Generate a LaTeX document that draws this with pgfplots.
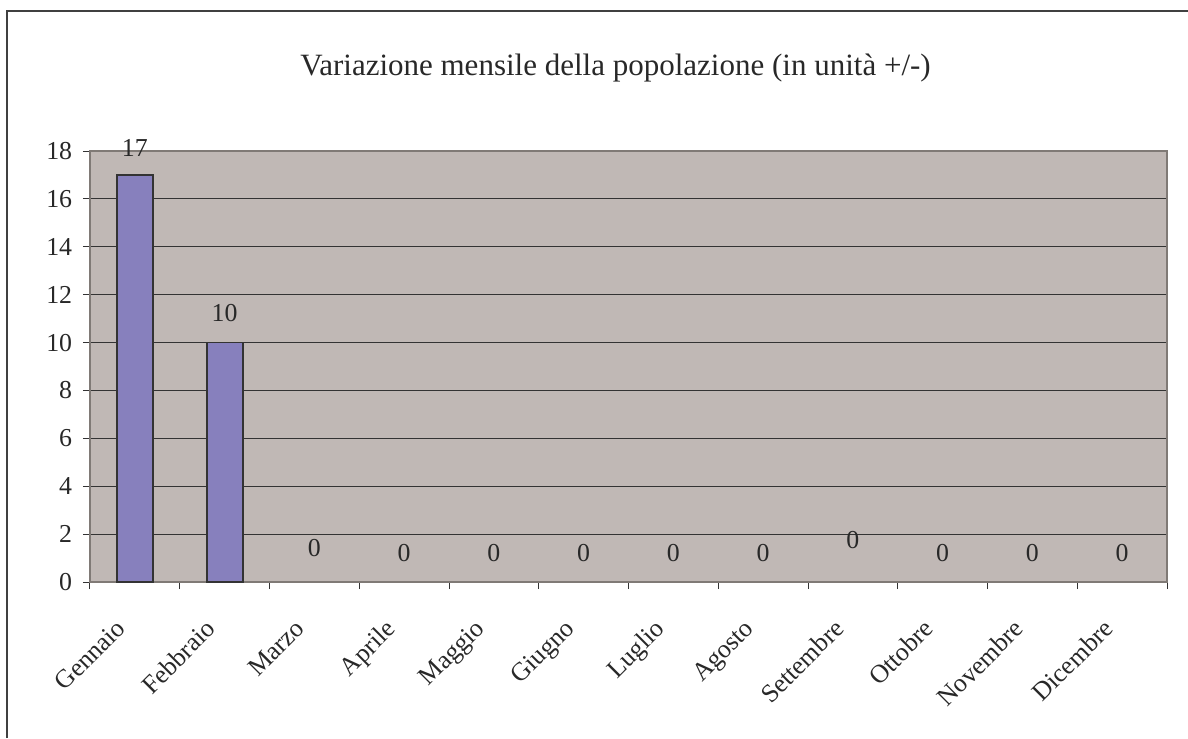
\documentclass[border=0pt]{standalone}
\usepackage{pgfplots}
\usepackage{pgfplotstable}
\pgfplotsset{compat=1.18}
\usepackage{fontspec}
\setmainfont{Liberation Serif}
\definecolor{bgplot}{RGB}{192,184,181}
\definecolor{barfill}{RGB}{135,128,189}
\definecolor{plotborder}{RGB}{128,122,118}
\definecolor{txt}{RGB}{40,40,40}

\pgfplotstableread{
x y dy
0 17 16.2
1 10 18
}\barsA
\pgfplotstableread{
x y dy
2 0 20.4
3 0 17.4
4 0 17.4
5 0 17.4
6 0 17.4
7 0 17.4
8 0 25.2
9 0 17.4
10 0 17.4
11 0 17.4
}\barsB

\begin{document}
\begin{tikzpicture}[x=0.6pt,y=0.6pt]
\useasboundingbox (0,0) rectangle (1188,738);
\draw[line width=0.9pt, black!75] (7,0) -- (7,727) -- (1188,727);
\node[font=\fontsize{18.6}{22}\selectfont, text=txt] at (615.5,670) {Variazione mensile della popolazione (in unità +/-)};
\begin{axis}[
  at={(54pt,93.6pt)}, anchor=south west,
  scale only axis, width=646.2pt, height=258.6pt,
  xmin=-0.5, xmax=11.5, ymin=0, ymax=18,
  ytick={0,2,...,18},
  xtick={0,...,11},
  xticklabels={Gennaio,Febbraio,Marzo,Aprile,Maggio,Giugno,Luglio,Agosto,Settembre,Ottobre,Novembre,Dicembre},
  minor xtick={-0.5,0.5,...,11.5},
  xtick pos=bottom, ytick pos=left,
  major x tick style={draw=none},
  tick align=outside,
  major tick length=4.2pt,
  minor tick length=4.2pt,
  every tick/.style={black!80, line width=0.6pt},
  minor x tick style={black!80, line width=0.6pt},
  ymajorgrids,
  major y grid style={black!80, line width=0.6pt},
  axis background/.style={fill=bgplot},
  axis line style={plotborder, line width=1.3pt},
  /pgf/number format/assume math mode=true,
  tick label style={font=\fontsize{15.5}{17}\selectfont, text=txt},
  yticklabel style={xshift=-3pt},
  xticklabel style={rotate=45, anchor=north east, inner sep=0pt, xshift=-20.7pt, yshift=-3.5pt},
  nodes near coords,
  every node near coord/.style={font=\fontsize{15.5}{17}\selectfont, text=txt, anchor=center, yshift=\dy pt},
  visualization depends on={\thisrow{dy}\as\dy},
]
\addplot[ybar, bar shift=0pt, bar width=21.6pt, fill=barfill, draw=black!80, line width=1.1pt] table[x=x,y=y] {\barsA};
\addplot[ybar, bar shift=0pt, bar width=21.6pt, draw=none, fill=none] table[x=x,y=y] {\barsB};
\end{axis}
\end{tikzpicture}
\end{document}
